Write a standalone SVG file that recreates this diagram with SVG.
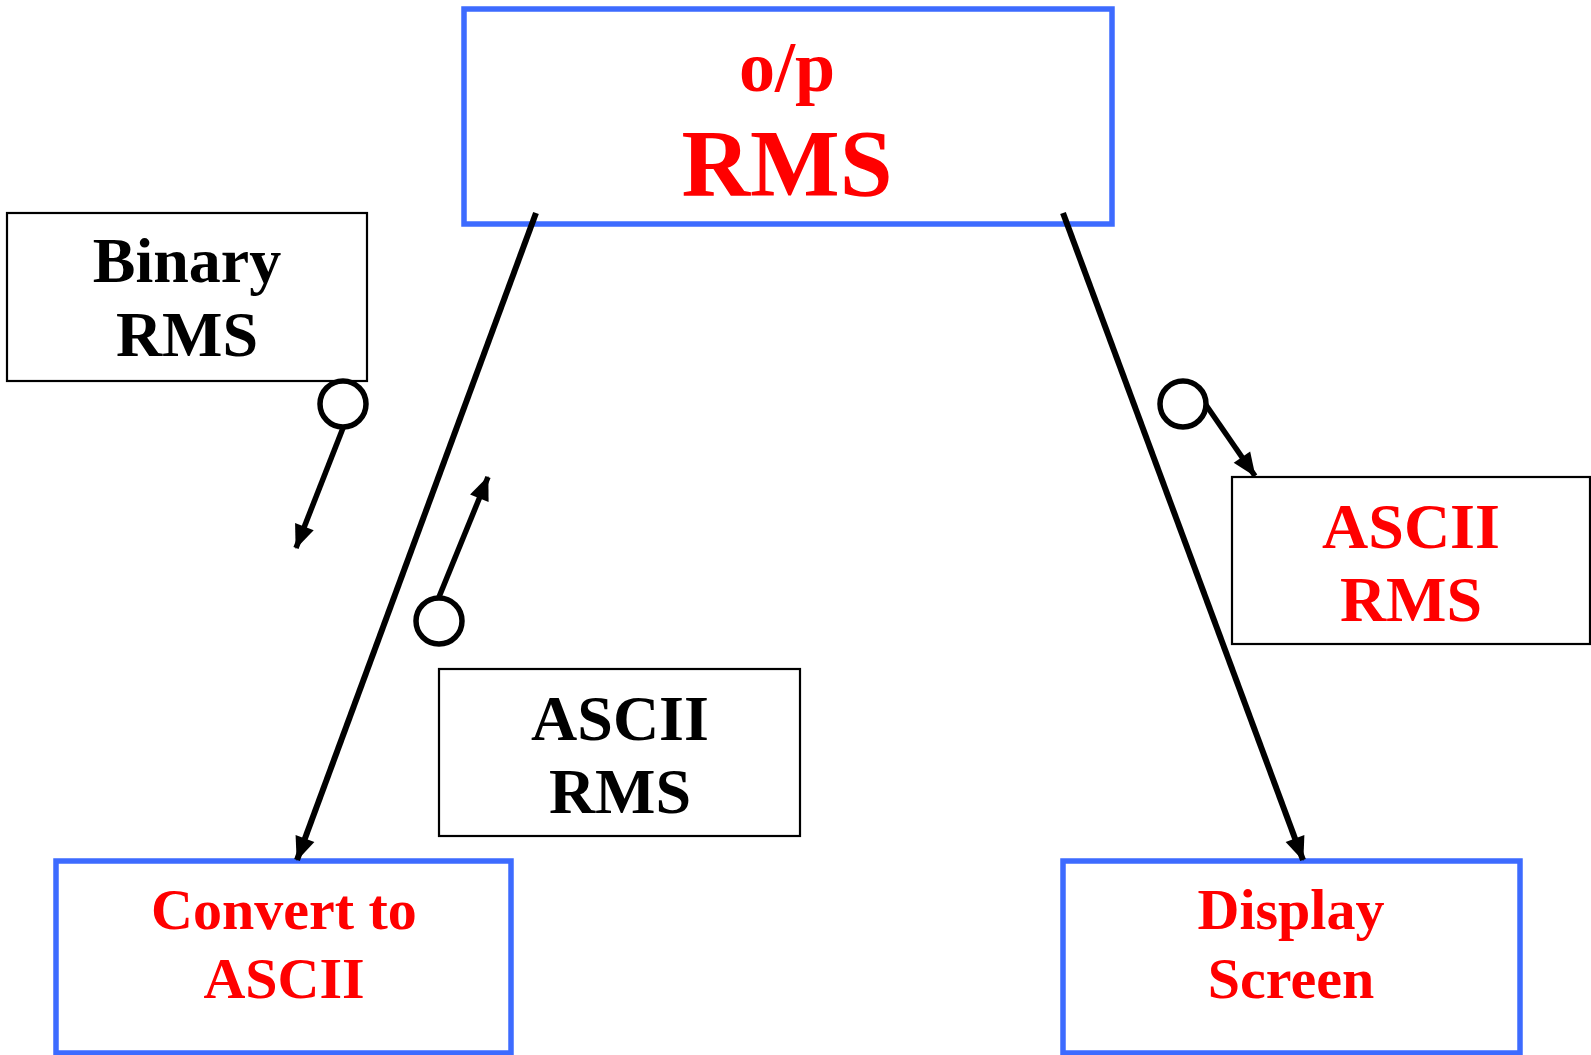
<svg xmlns="http://www.w3.org/2000/svg" width="1591" height="1055" viewBox="0 0 1591 1055">
<style>
.bl{fill:#fff;stroke:#3D6BFF;stroke-width:5.5}
.bk{fill:#fff;stroke:#000;stroke-width:2.2}
.t{font-family:"Liberation Serif","Times New Roman",serif;font-weight:bold;text-anchor:middle}
.r{fill:#FF0000}
.k{fill:#000}
.ln{stroke:#000;stroke-width:6;fill:none}
.la{stroke:#000;stroke-width:5.5;fill:none}
.cr{stroke:#000;stroke-width:5.5;fill:#fff}
</style>
<defs>
<marker id="ah" viewBox="0 0 24 20" refX="23" refY="10" markerWidth="24" markerHeight="20" orient="auto" markerUnits="userSpaceOnUse" overflow="visible">
<path d="M0,0 L24,10 L0,20 z" fill="#000"/>
</marker>
</defs>
<g id="op-rms">
<rect class="bl" x="464" y="9" width="648" height="215"/>
<text class="t r" x="787" y="91" font-size="72">o/p</text>
<text class="t r" x="787" y="196" font-size="95">RMS</text>
</g>
<g id="binary-rms">
<rect class="bk" x="7" y="213" width="360" height="168"/>
<text class="t k" x="187" y="282" font-size="64">Binary</text>
<text class="t k" x="187" y="356" font-size="64">RMS</text>
</g>
<g id="ascii-rms-black">
<rect class="bk" x="439" y="669" width="361" height="167"/>
<text class="t k" x="620" y="740" font-size="64">ASCII</text>
<text class="t k" x="620" y="813" font-size="64">RMS</text>
</g>
<g id="ascii-rms-red">
<rect class="bk" x="1232" y="477" width="358" height="167"/>
<text class="t r" x="1411" y="548" font-size="64">ASCII</text>
<text class="t r" x="1411" y="621" font-size="64">RMS</text>
</g>
<g id="convert">
<rect class="bl" x="56" y="861" width="455" height="192"/>
<text class="t r" x="284" y="929" font-size="58">Convert to</text>
<text class="t r" x="284" y="998" font-size="58">ASCII</text>
</g>
<g id="display">
<rect class="bl" x="1063" y="861" width="457" height="192"/>
<text class="t r" x="1291" y="929" font-size="58">Display</text>
<text class="t r" x="1291" y="998" font-size="58">Screen</text>
</g>
<g id="connectors">
<line class="ln" x1="536" y1="213" x2="297" y2="860" marker-end="url(#ah)"/>
<line class="ln" x1="1063" y1="213" x2="1303" y2="860" marker-end="url(#ah)"/>
<line class="la" x1="343" y1="428" x2="296" y2="548" marker-end="url(#ah)"/>
<circle class="cr" cx="343" cy="404" r="23"/>
<line class="la" x1="439" y1="597" x2="488" y2="477" marker-end="url(#ah)"/>
<circle class="cr" cx="439" cy="621" r="23"/>
<line class="la" x1="1206" y1="405" x2="1255" y2="476" marker-end="url(#ah)"/>
<circle class="cr" cx="1183" cy="404" r="23"/>
</g>
</svg>
